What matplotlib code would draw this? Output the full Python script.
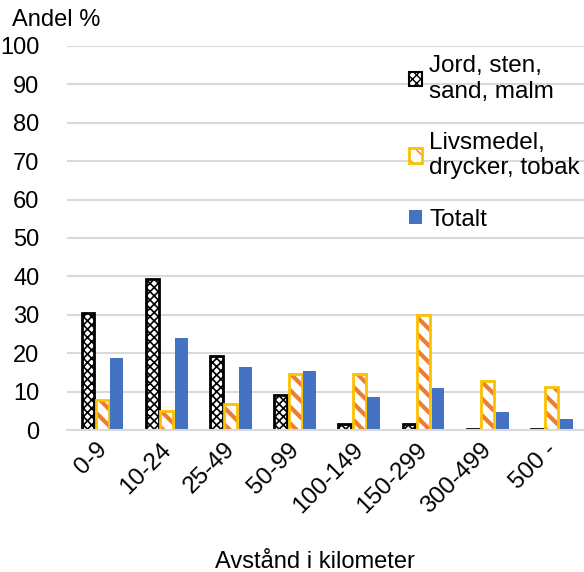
import numpy as np
import matplotlib
matplotlib.use('Agg')
import matplotlib.pyplot as plt
from matplotlib.patches import Patch
from matplotlib.legend_handler import HandlerTuple
from matplotlib.transforms import ScaledTranslation

plt.rcParams['font.family'] = ['Liberation Sans', 'DejaVu Sans']

kategorier = ['0-9', '10-24', '25-49', '50-99', '100-149', '150-299', '300-499', '500 -']
jord = [30.4, 39.4, 19.3, 9.2, 1.6, 1.5, 0.4, 0.3]
livsmedel = [7.8, 5.0, 6.8, 14.6, 14.5, 29.9, 12.8, 11.1]
totalt = [18.8, 24.0, 16.3, 15.4, 8.6, 10.9, 4.6, 2.9]

x = np.arange(len(kategorier))
w = 0.2
off = 0.225

fig = plt.figure(figsize=(5.84, 5.72), dpi=100)
ax = fig.add_axes([0.115, 0.248, 0.885, 0.672])

ax.set_ylim(0, 100)
ax.set_xlim(-0.55, len(kategorier) - 0.5)
ax.set_yticks(np.arange(0, 101, 10))
ax.yaxis.grid(True, color='#d9d9d9', lw=1.5)
ax.set_axisbelow(True)

# Jord: svart ram, rutmönster
with plt.rc_context({'hatch.linewidth': 1.2}):
    ax.bar(x - off, jord, w, color='white', edgecolor='black', hatch='xxxx', lw=0)
ax.bar(x - off, jord, w, fill=False, edgecolor='black', lw=2)

# Livsmedel: guldram, orange diagonaler
with plt.rc_context({'hatch.linewidth': 3}):
    ax.bar(x, livsmedel, w, color='white', edgecolor='#ED7D31', hatch='\\\\', lw=0)
    hl = Patch(facecolor='white', edgecolor='#ED7D31', hatch='\\\\', lw=0)
ax.bar(x, livsmedel, w, fill=False, edgecolor='#FFC000', lw=2)

ax.bar(x + off, totalt, w, color='#4472C4', lw=0)

# legend-handtag
with plt.rc_context({'hatch.linewidth': 1.0}):
    h1 = Patch(facecolor='white', edgecolor='black', hatch='xxxx', lw=1.5)
h2 = (hl, Patch(fill=False, edgecolor='#FFC000', lw=2))
h3 = Patch(facecolor='#4472C4', lw=0)
leg = fig.legend([h1, h2, h3],
                 ['Jord, sten,\nsand, malm', 'Livsmedel,\ndrycker, tobak', 'Totalt'],
                 handler_map={tuple: HandlerTuple(ndivide=1)},
                 loc='upper left', bbox_to_anchor=(0.70, 0.903), frameon=False,
                 fontsize=17.5, handlelength=0.55, handleheight=0.55, handletextpad=0.3,
                 labelspacing=1.2, borderaxespad=0, borderpad=0)

for s in ['top', 'right', 'left']:
    ax.spines[s].set_visible(False)
ax.spines['bottom'].set_color('#d9d9d9')
ax.spines['bottom'].set_linewidth(1.5)

ax.tick_params(axis='y', length=0, labelsize=17, pad=20)
ax.tick_params(axis='x', length=0, labelsize=17.5, pad=6)
ax.set_xticks(x)
ax.set_xticklabels(kategorier, rotation=45, ha='right', rotation_mode='anchor')
skift = ScaledTranslation(-7 / 100, 0, fig.dpi_scale_trans)
for lab in ax.get_xticklabels():
    lab.set_transform(lab.get_transform() + skift)

fig.text(0.02, 0.965, 'Andel %', fontsize=17, va='center', ha='left')
fig.text(0.54, 0.018, 'Avstånd i kilometer', fontsize=17, va='center', ha='center')

fig.savefig('out.png', dpi=100)
